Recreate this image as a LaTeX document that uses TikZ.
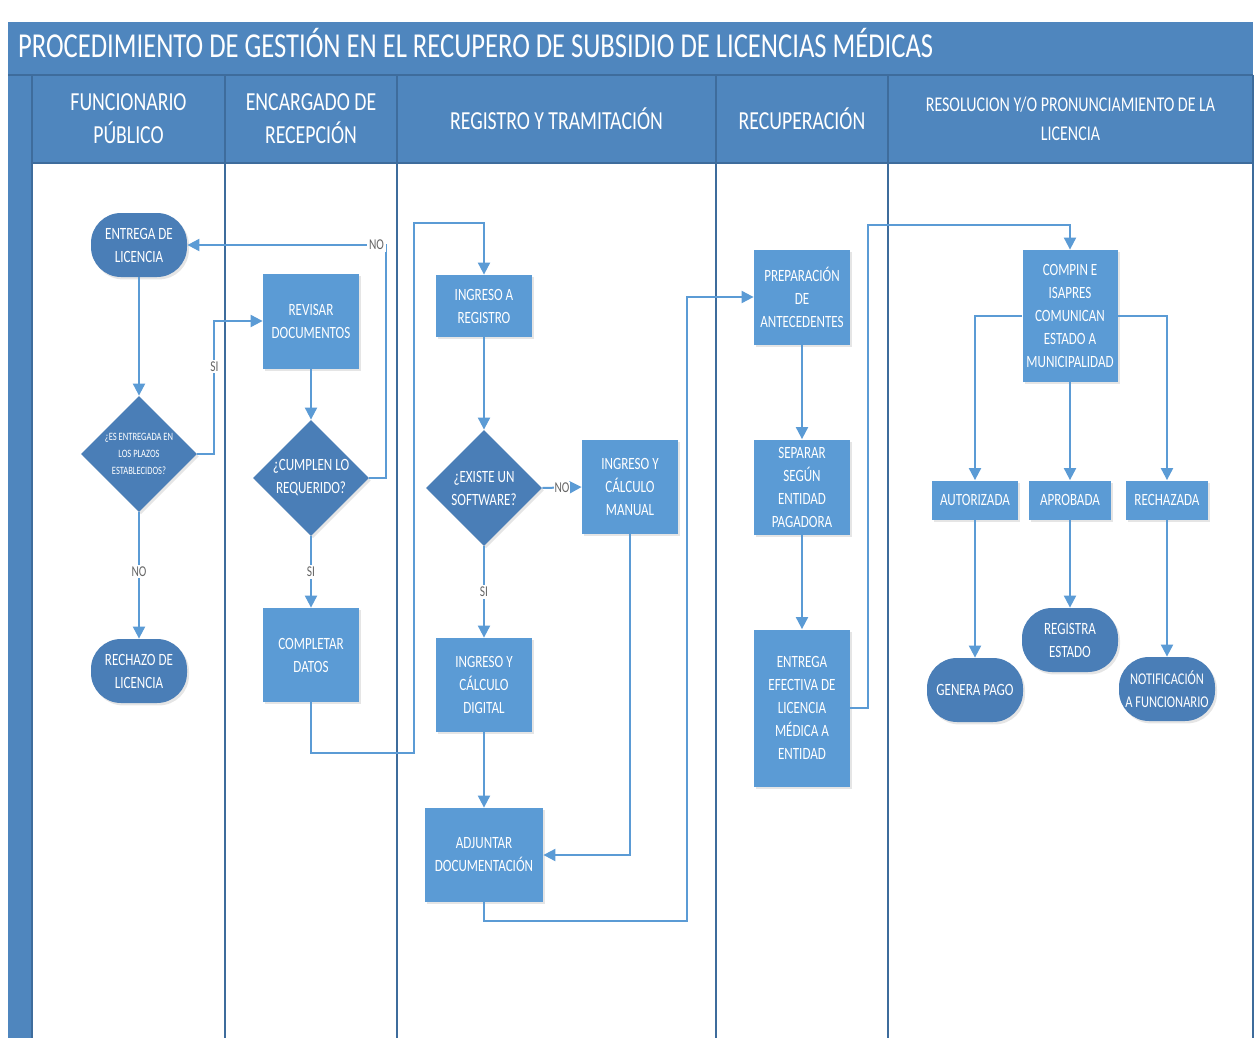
\documentclass[tikz,border=0pt]{standalone}
\usepackage{fontspec}
\setmainfont{Carlito}[FakeStretch=0.76]
\usetikzlibrary{shapes.geometric,arrows.meta,shadows}
\definecolor{bandblue}{HTML}{4F86BE}
\definecolor{boxblue}{HTML}{5B9BD5}
\definecolor{darkblue}{HTML}{4A7EB7}
\definecolor{laneline}{HTML}{3E6C9C}
\definecolor{linkblue}{HTML}{5B9BD5}
\begin{document}
\begin{tikzpicture}[x=0.5pt, y=-0.5pt, font=\fontsize{8.6}{11.5}\selectfont,
  caja/.style={rectangle, fill=boxblue, text=white, align=center, inner sep=0pt,
    drop shadow={opacity=0.2, shadow xshift=1pt, shadow yshift=-1.2pt}},
  terminal/.style={rectangle, rounded corners=15pt, fill=darkblue, text=white, align=center,
    inner sep=0pt, minimum width=48pt, minimum height=32pt,
    drop shadow={opacity=0.2, shadow xshift=1pt, shadow yshift=-1.2pt}},
  decision/.style={diamond, aspect=1, fill=darkblue, text=white, align=center, inner sep=0pt,
    minimum width=58pt, minimum height=58pt,
    drop shadow={opacity=0.2, shadow xshift=1pt, shadow yshift=-1.2pt}},
  flecha/.style={draw=linkblue, line width=1pt, -{Triangle[width=6pt,length=6pt]}},
  etiqueta/.style={fill=white, text=black!60, inner sep=0.8pt, font=\fontsize{7.5}{9}\selectfont},
  carril/.style={draw=laneline, line width=0.8pt},
  cabecera/.style={text=white, align=center, font=\fontsize{13}{16.5}\selectfont}]
\useasboundingbox (0,0) rectangle (1259,1038);
\fill[white] (0,0) rectangle (1259,1038);

% titulo y cabeceras
\fill[bandblue] (8,22) rectangle (1253,163);
\fill[bandblue] (8,163) rectangle (32,1038);
\draw[laneline, line width=0.6pt] (8,75) -- (1253,75);
\draw[laneline, line width=0.6pt] (32,163) -- (1253,163);
\node[text=white, anchor=west, font=\fontsize{17.5}{20}\selectfont] (titulo) at (11,43)
  {PROCEDIMIENTO DE GESTIÓN EN EL RECUPERO DE SUBSIDIO DE LICENCIAS MÉDICAS};
\foreach \x in {32,225,397,716,888,1253}
  \draw[carril] (\x,75) -- (\x,1038);
\node[cabecera] (h1) at (128.5,119) {FUNCIONARIO\\PÚBLICO};
\node[cabecera] (h2) at (311,119) {ENCARGADO DE\\RECEPCIÓN};
\node[cabecera] (h3) at (556.5,119) {REGISTRO Y TRAMITACIÓN};
\node[cabecera] (h4) at (802,119) {RECUPERACIÓN};
\node[cabecera, font=\fontsize{10.5}{14.5}\selectfont] (h5) at (1070.5,119)
  {RESOLUCION Y/O PRONUNCIAMIENTO DE LA\\LICENCIA};

% funcionario publico
\node[terminal] (entrega) at (139,245) {ENTREGA DE\\LICENCIA};
\node[decision, font=\fontsize{5.6}{8.5}\selectfont] (plazos) at (139,454)
  {¿ES ENTREGADA EN\\LOS PLAZOS\\ESTABLECIDOS?};
\node[terminal] (rechazo) at (139,671) {RECHAZO DE\\LICENCIA};

% encargado de recepcion
\node[caja, minimum width=48pt, minimum height=47.5pt] (revisar) at (311,321) {REVISAR\\DOCUMENTOS};
\node[decision] (cumplen) at (311,478) {¿CUMPLEN LO\\REQUERIDO?};
\node[caja, minimum width=48pt, minimum height=47pt] (completar) at (311,655) {COMPLETAR\\DATOS};

% registro y tramitacion
\node[caja, minimum width=48pt, minimum height=31pt] (ingreso) at (484,306) {INGRESO A\\REGISTRO};
\node[decision] (software) at (484,488) {¿EXISTE UN\\SOFTWARE?};
\node[caja, minimum width=48pt, minimum height=47pt] (manual) at (630,487) {INGRESO Y\\CÁLCULO\\MANUAL};
\node[caja, minimum width=48pt, minimum height=47pt] (digital) at (484,685) {INGRESO Y\\CÁLCULO\\DIGITAL};
\node[caja, minimum width=59pt, minimum height=47pt] (adjuntar) at (484,855) {ADJUNTAR\\DOCUMENTACIÓN};

% recuperacion
\node[caja, minimum width=48pt, minimum height=47.5pt] (prep) at (802,297) {PREPARACIÓN\\DE\\ANTECEDENTES};
\node[caja, minimum width=48pt, minimum height=47.5pt] (separar) at (802,487) {SEPARAR\\SEGÚN\\ENTIDAD\\PAGADORA};
\node[caja, minimum width=48pt, minimum height=78.5pt] (efectiva) at (802,708)
  {ENTREGA\\EFECTIVA DE\\LICENCIA\\MÉDICA A\\ENTIDAD};

% resolucion
\node[caja, minimum width=47.5pt, minimum height=66pt] (compin) at (1070,316)
  {COMPIN E\\ISAPRES\\COMUNICAN\\ESTADO A\\MUNICIPALIDAD};
\node[caja, minimum width=43pt, minimum height=19.5pt] (autorizada) at (975,500) {AUTORIZADA};
\node[caja, minimum width=41pt, minimum height=19.5pt] (aprobada) at (1070,500) {APROBADA};
\node[caja, minimum width=41pt, minimum height=19.5pt] (rechazada) at (1167,500) {RECHAZADA};
\node[terminal] (pago) at (975,690) {GENERA PAGO};
\node[terminal] (registra) at (1070,640) {REGISTRA\\ESTADO};
\node[terminal, font=\fontsize{8.2}{11.5}\selectfont] (notifica) at (1167,689) {NOTIFICACIÓN\\A FUNCIONARIO};

% conectores
\draw[flecha] (entrega) -- (plazos);
\draw[flecha] (plazos.east) -- ++(17,0) |- node[etiqueta, pos=0.33] {SI} (revisar.west);
\draw[flecha] (plazos) -- node[etiqueta, pos=0.47] {NO} (rechazo);
\draw[flecha] (revisar) -- (cumplen);
\draw[flecha] (cumplen.east) -- ++(17,0) |- node[etiqueta, pos=0.525] {NO} (entrega.east);
\draw[flecha] (cumplen) -- node[etiqueta, pos=0.5] {SI} (completar);
\draw[flecha] (completar.south) -- ++(0,51) -| ([xshift=-35pt, yshift=26pt]ingreso.north) -| (ingreso.north);
\draw[flecha] (ingreso) -- (software);
\draw[flecha] (software.east) -- node[etiqueta, inner sep=0.3pt] {NO} (manual.west);
\draw[flecha] (software) -- node[etiqueta, pos=0.5] {SI} (digital);
\draw[flecha] (digital) -- (adjuntar);
\draw[flecha] (manual.south) |- (adjuntar.east);
\draw[flecha] (adjuntar.south) -- ++(0,19) -| ([xshift=-33.5pt]prep.west) -- (prep.west);
\draw[flecha] (prep) -- (separar);
\draw[flecha] (separar) -- (efectiva);
\draw[flecha] (efectiva.east) -- ++(18,0) |- ([yshift=12.5pt]compin.north) -- (compin.north);
\draw[flecha] (compin.west) -| (autorizada.north);
\draw[flecha] (compin) -- (aprobada);
\draw[flecha] (compin.east) -| (rechazada.north);
\draw[flecha] (autorizada) -- (pago);
\draw[flecha] (aprobada) -- (registra);
\draw[flecha] (rechazada) -- (notifica);
\end{tikzpicture}
\end{document}
